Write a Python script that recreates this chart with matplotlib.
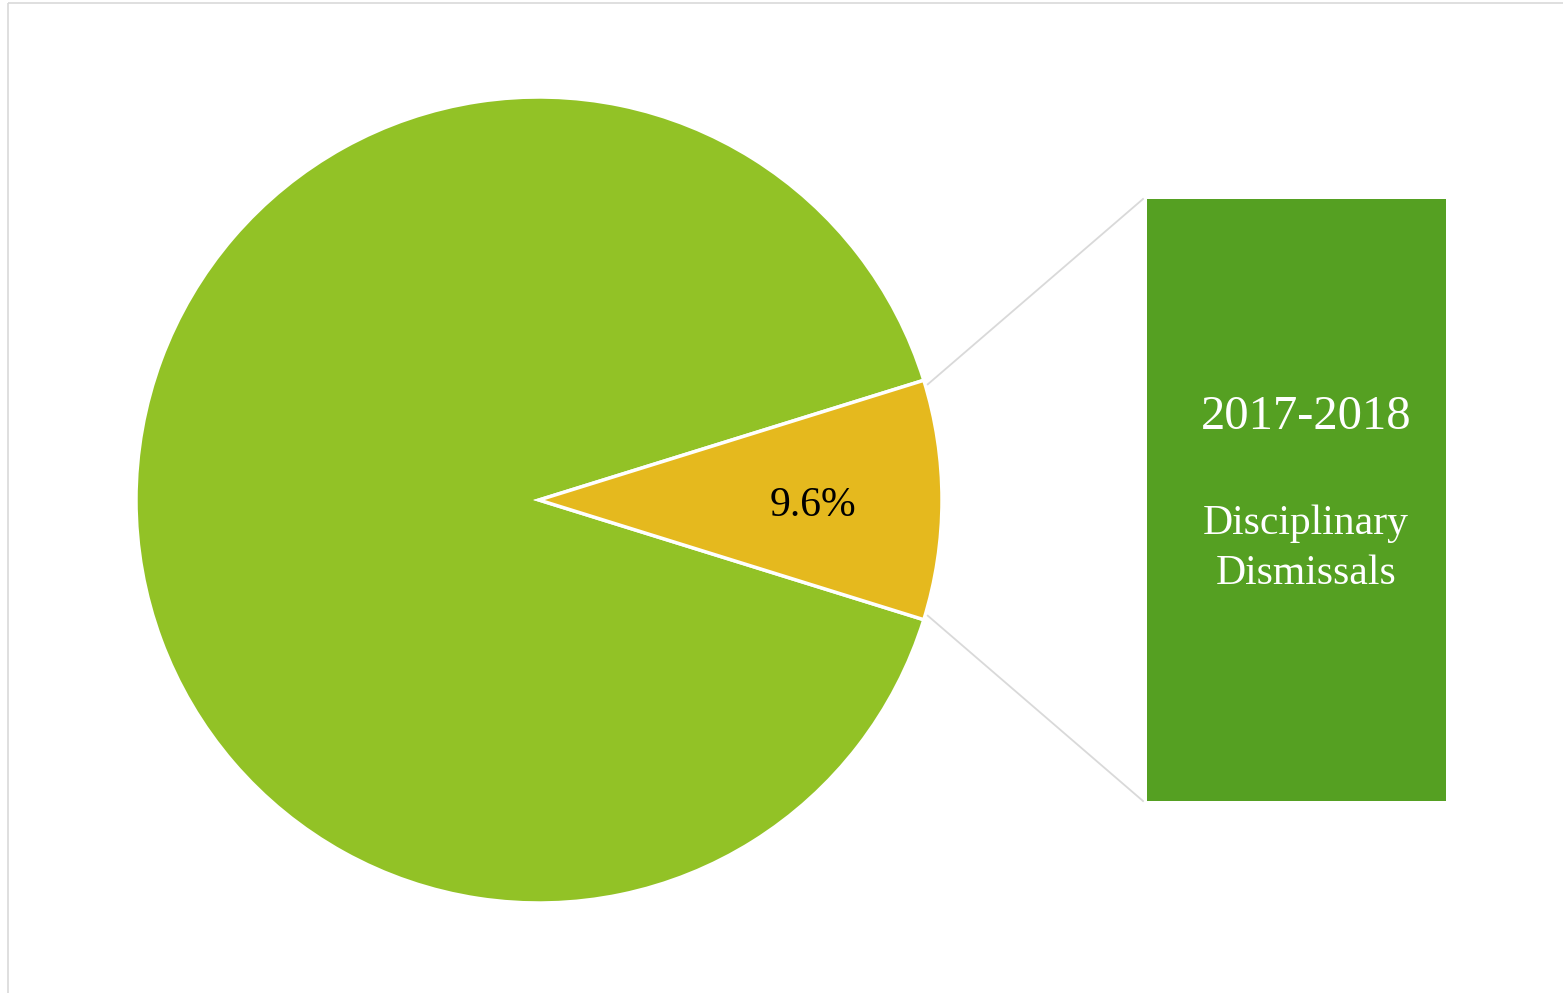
import numpy as np
import matplotlib.pyplot as plt
from matplotlib.patches import Rectangle

# pie-of-pie style summary: share of dismissals that were disciplinary
shares = [90.4, 9.6]
slice_colors = ['#92C226', '#E5B91E']
pct_label = '9.6%'
box_title = '2017-2018'
box_label = 'Disciplinary\nDismissals'

W, H = 1563, 993
fig = plt.figure(figsize=(W / 100, H / 100), dpi=100)
ax = fig.add_axes([0, 0, 1, 1])
ax.set_xlim(0, W)
ax.set_ylim(H, 0)
ax.set_aspect('equal')
ax.axis('off')

# outer chart frame
ax.add_patch(Rectangle((8, 3), W, H, fill=False, edgecolor='#D9D9D9', lw=1.2))

cx, cy, r = 539, 500, 403
half = shares[1] * 3.6 / 2
wedges, _ = ax.pie(shares, colors=slice_colors, startangle=half,
                   center=(cx, cy), radius=r, frame=True,
                   wedgeprops={'edgecolor': 'white', 'linewidth': 2.5})
ax.set_xlim(0, W)
ax.set_ylim(H, 0)
ax.axis('off')

ax.text(cx + 0.68 * r, cy + 6, pct_label, ha='center', va='center',
        fontsize=30, family='Liberation Serif', color='black')

# side box
bx0, by0, bx1, by1 = 1147, 199, 1446, 801
ax.add_patch(Rectangle((bx0, by0), bx1 - bx0, by1 - by0,
                       facecolor='#55A022', edgecolor='none'))

# connectors from the small slice to the box corners
a = np.radians(half)
p_top = (cx + r * np.cos(a) + 4, cy - r * np.sin(a) + 4)
p_bot = (cx + r * np.cos(a) + 4, cy + r * np.sin(a) - 4)
ax.plot([p_top[0], bx0 - 4], [p_top[1], by0], color='#D9D9D9', lw=1.3)
ax.plot([p_bot[0], bx0 - 4], [p_bot[1], by1], color='#D9D9D9', lw=1.3)

tx = 1306
ax.text(tx, 417, box_title, ha='center', va='center', color='white',
        fontsize=35, family='Liberation Serif')
ax.text(tx, 549, box_label, ha='center', va='center', color='white',
        fontsize=30, family='Liberation Serif', linespacing=1.38)

fig.savefig('out.png', dpi=100, facecolor='white')
